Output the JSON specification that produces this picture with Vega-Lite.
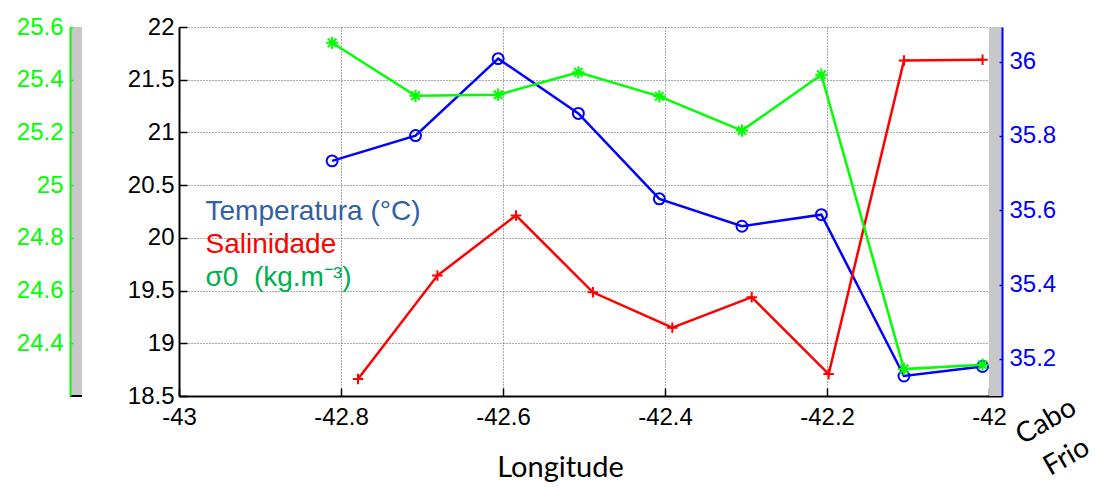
{
  "$schema": "https://vega.github.io/schema/vega-lite/v6.json",
  "background": "white",
  "padding": {"left": 16, "top": 15, "right": 5, "bottom": 5},
  "bounds": "flush",
  "spacing": 97,
  "config": {"view": {"stroke": null}, "font": "Liberation Sans"},
  "datasets": {
    "estacoes": [
      {"lon": -42.811, "temp": 20.73, "sigma": 25.540, "lon_s": -42.779, "sal": 35.146},
      {"lon": -42.708, "temp": 20.97, "sigma": 25.339, "lon_s": -42.681, "sal": 35.424},
      {"lon": -42.606, "temp": 21.70, "sigma": 25.343, "lon_s": -42.584, "sal": 35.586},
      {"lon": -42.507, "temp": 21.18, "sigma": 25.428, "lon_s": -42.489, "sal": 35.379},
      {"lon": -42.407, "temp": 20.37, "sigma": 25.337, "lon_s": -42.391, "sal": 35.284},
      {"lon": -42.305, "temp": 20.11, "sigma": 25.207, "lon_s": -42.293, "sal": 35.366},
      {"lon": -42.207, "temp": 20.22, "sigma": 25.419, "lon_s": -42.198, "sal": 35.159},
      {"lon": -42.105, "temp": 18.69, "sigma": 24.302, "lon_s": -42.105, "sal": 36.003},
      {"lon": -42.008, "temp": 18.78, "sigma": 24.319, "lon_s": -42.008, "sal": 36.005}
    ]
  },
  "hconcat": [
    {
      "width": 12,
      "height": 369,
      "data": {"values": [{}]},
      "layer": [
        {
          "mark": {"type": "rect", "color": "#c8c8c8"},
          "encoding": {
            "y": {
              "datum": 24.2, "type": "quantitative",
              "scale": {"domain": [24.2, 25.6], "nice": false, "zero": false},
              "axis": {
                "orient": "left", "title": null,
                "values": [24.4, 24.6, 24.8, 25, 25.2, 25.4, 25.6],
                "labelExpr": "'' + datum.value",
                "labelColor": "#00FF00", "labelFontSize": 24, "labelFont": "Liberation Sans",
                "labelPadding": 10, "labelFlush": false, "labelOverlap": false,
                "domainColor": "#00FF00", "domainWidth": 2,
                "tickColor": "#00FF00", "tickSize": -3, "tickWidth": 1.5,
                "grid": false, "zindex": 1
              }
            },
            "y2": {"datum": 25.6}
          }
        },
        {
          "mark": {"type": "rule", "color": "black", "strokeWidth": 2},
          "encoding": {"y": {"datum": 24.2, "type": "quantitative"}}
        }
      ]
    },
    {
      "width": 823,
      "height": 369,
      "layer": [
        {
          "data": {"values": [{}]},
          "mark": {"type": "rect", "color": "#c8c8c8"},
          "encoding": {
            "x": {"datum": -42, "type": "quantitative", "title": "Longitude", "scale": {"domain": [-43, -41.984], "nice": false, "zero": false}},
            "x2": {"datum": -41.984}
          }
        },
        {
          "layer": [
            {
              "data": {"name": "estacoes"},
              "mark": {"type": "line", "color": "#0000FF", "strokeWidth": 2.5},
              "encoding": {
                "x": {
                  "field": "lon", "type": "quantitative", "title": "Longitude",
                  "scale": {"domain": [-43, -41.984], "nice": false, "zero": false},
                  "axis": {
                    "orient": "bottom",
                    "values": [-43, -42.8, -42.6, -42.4, -42.2, -42],
                    "labelExpr": "'' + datum.value",
                    "labelColor": "black", "labelFontSize": 24, "labelFont": "Liberation Sans",
                    "labelPadding": 17, "labelFlush": false, "labelOverlap": false,
                    "domainColor": "black", "domainWidth": 2,
                    "tickColor": "black", "tickSize": -8, "tickWidth": 1.5,
                    "grid": true, "gridColor": "#555555", "gridDash": [1, 2], "gridWidth": 1,
                    "titleFont": "Lato", "titleFontSize": 29, "titleFontWeight": "normal", "titleColor": "black",
                    "titleX": 381, "titleY": 80, "titleBaseline": "alphabetic", "titleAlign": "center"
                  }
                },
                "y": {
                  "field": "temp", "type": "quantitative",
                  "scale": {"domain": [18.5, 22], "nice": false, "zero": false},
                  "axis": {
                    "orient": "left", "title": null,
                    "values": [18.5, 19, 19.5, 20, 20.5, 21, 21.5, 22],
                    "labelExpr": "'' + datum.value",
                    "labelColor": "black", "labelFontSize": 24, "labelFont": "Liberation Sans",
                    "labelPadding": 13, "labelFlush": false, "labelOverlap": false,
                    "domainColor": "black", "domainWidth": 2,
                    "tickColor": "black", "tickSize": -8, "tickWidth": 1.5,
                    "grid": true, "gridColor": "#555555", "gridDash": [1, 2], "gridWidth": 1
                  }
                }
              }
            },
            {
              "data": {"name": "estacoes"},
              "mark": {"type": "point", "shape": "circle", "filled": false, "stroke": "#0000FF", "strokeWidth": 2, "size": 120, "opacity": 1},
              "encoding": {
                "x": {"field": "lon", "type": "quantitative", "title": "Longitude"},
                "y": {"field": "temp", "type": "quantitative"}
              }
            },
            {
              "data": {"values": [{}]},
              "mark": {"type": "text", "text": "Temperatura (°C)", "color": "#2F5FAA", "font": "Liberation Sans", "fontSize": 28, "align": "left", "baseline": "alphabetic"},
              "encoding": {
                "x": {"datum": -42.9673, "type": "quantitative", "title": "Longitude"},
                "y": {"datum": 20.169, "type": "quantitative"}
              }
            },
            {
              "data": {"values": [{}]},
              "mark": {"type": "text", "text": "Salinidade", "color": "#FF0000", "font": "Liberation Sans", "fontSize": 28, "align": "left", "baseline": "alphabetic"},
              "encoding": {
                "x": {"datum": -42.9673, "type": "quantitative", "title": "Longitude"},
                "y": {"datum": 19.856, "type": "quantitative"}
              }
            },
            {
              "data": {"values": [{}]},
              "mark": {"type": "text", "text": "σ0\u00a0\u00a0(kg.m⁻³)", "color": "#00B050", "font": "Liberation Sans", "fontSize": 28, "align": "left", "baseline": "alphabetic"},
              "encoding": {
                "x": {"datum": -42.9673, "type": "quantitative", "title": "Longitude"},
                "y": {"datum": 19.543, "type": "quantitative"}
              }
            },
            {
              "data": {"values": [{}]},
              "mark": {"type": "text", "text": ["Cabo", "Frio"], "color": "black", "font": "Lato", "fontSize": 28, "lineHeight": 41, "angle": -30, "align": "center", "baseline": "middle"},
              "encoding": {
                "x": {"datum": -41.9292, "type": "quantitative", "title": "Longitude"},
                "y": {"datum": 18.254, "type": "quantitative"}
              }
            }
          ]
        },
        {
          "data": {"name": "estacoes"},
          "encoding": {
            "x": {"field": "lon_s", "type": "quantitative", "title": "Longitude"},
            "y": {
              "field": "sal", "type": "quantitative",
              "scale": {"domain": [35.1, 36.093], "nice": false, "zero": false},
              "axis": {
                "orient": "right", "title": null,
                "values": [35.2, 35.4, 35.6, 35.8, 36],
                "labelExpr": "'' + datum.value",
                "labelColor": "#0000FF", "labelFontSize": 24, "labelFont": "Liberation Sans",
                "labelPadding": 10, "labelFlush": false, "labelOverlap": false,
                "domainColor": "#0000FF", "domainWidth": 2,
                "tickColor": "#0000FF", "tickSize": -3, "tickWidth": 1.5,
                "grid": false, "zindex": 1
              }
            }
          },
          "layer": [
            {"mark": {"type": "line", "color": "#FF0000", "strokeWidth": 2.5}},
            {"mark": {"type": "point", "shape": "M-1,0L1,0M0,-1L0,1", "filled": false, "stroke": "#FF0000", "strokeWidth": 2, "size": 110, "opacity": 1}}
          ]
        },
        {
          "data": {"name": "estacoes"},
          "encoding": {
            "x": {"field": "lon", "type": "quantitative", "title": "Longitude"},
            "y": {
              "field": "sigma", "type": "quantitative",
              "scale": {"domain": [24.2, 25.6], "nice": false, "zero": false},
              "axis": null
            }
          },
          "layer": [
            {"mark": {"type": "line", "color": "#00FF00", "strokeWidth": 2.5}},
            {"mark": {"type": "point", "shape": "M-1,0L1,0M0,-1L0,1M-0.7,-0.7L0.7,0.7M-0.7,0.7L0.7,-0.7", "filled": false, "stroke": "#00FF00", "strokeWidth": 2, "size": 150, "opacity": 1}}
          ]
        }
      ],
      "resolve": {"scale": {"y": "independent"}}
    }
  ]
}
